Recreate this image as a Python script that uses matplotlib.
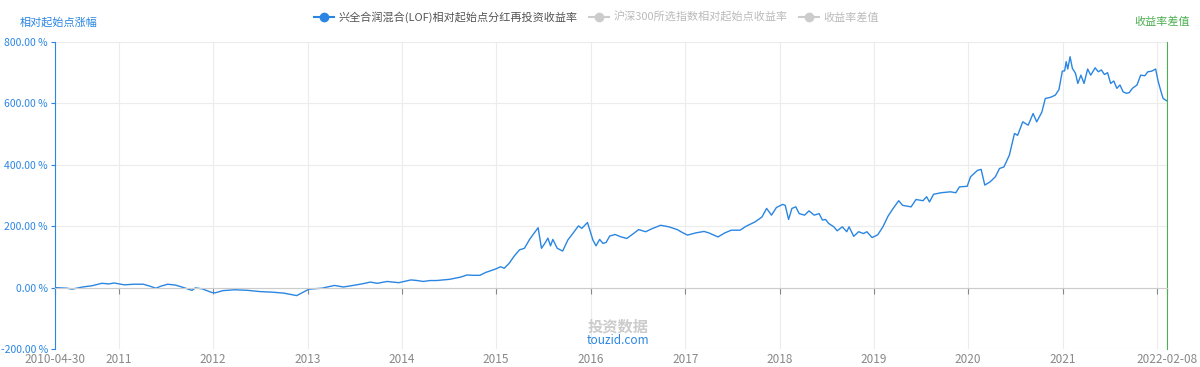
import matplotlib
matplotlib.use("Agg")
import matplotlib.pyplot as plt
from matplotlib.lines import Line2D
import pandas as pd

plt.rcParams["font.family"] = ["Noto Sans CJK SC", "DejaVu Sans"]

BLUE, GREEN, GRID = "#2a86e2", "#4caf50", "#ececec"

# ---- data (fund return relative to start, %) ----
dates = [
    "2010-04-30", "2010-06-15", "2010-07-05", "2010-08-15", "2010-09-20", "2010-10-28", "2010-11-25", "2010-12-15",
    "2011-01-23", "2011-03-01", "2011-04-07", "2011-05-01", "2011-05-25", "2011-06-15", "2011-07-10", "2011-08-10",
    "2011-09-10", "2011-10-12", "2011-10-25", "2011-11-20", "2011-12-28",
    "2012-01-10", "2012-02-08", "2012-03-25", "2012-05-15", "2012-07-01", "2012-08-20", "2012-10-01", "2012-11-20",
    "2012-12-15",
    "2013-01-07", "2013-02-25", "2013-04-15", "2013-05-20", "2013-07-10", "2013-08-05", "2013-09-01", "2013-09-28",
    "2013-11-05", "2013-12-20",
    "2014-02-05", "2014-03-01", "2014-03-25", "2014-04-20", "2014-05-15", "2014-07-05", "2014-08-15", "2014-09-10",
    "2014-10-05", "2014-10-30", "2014-11-20", "2014-12-10", "2014-12-31",
    "2015-01-18", "2015-02-01", "2015-02-20", "2015-03-10", "2015-04-01", "2015-04-20", "2015-05-10", "2015-06-12",
    "2015-06-25", "2015-07-08", "2015-07-20", "2015-07-30", "2015-08-08", "2015-08-25", "2015-09-15", "2015-10-05",
    "2015-10-25", "2015-11-15", "2015-11-28", "2015-12-20", "2015-12-31",
    "2016-01-10", "2016-01-22", "2016-02-05", "2016-02-18", "2016-03-01", "2016-03-15", "2016-04-05", "2016-04-25",
    "2016-05-20", "2016-06-15", "2016-07-05", "2016-08-01", "2016-08-26", "2016-09-28", "2016-10-30", "2016-12-01",
    "2016-12-22",
    "2017-01-10", "2017-02-10", "2017-03-15", "2017-04-03", "2017-05-08", "2017-06-03", "2017-06-28", "2017-08-01",
    "2017-08-25", "2017-09-28", "2017-10-25", "2017-11-12", "2017-12-01", "2017-12-20",
    "2018-01-13", "2018-01-23", "2018-02-05", "2018-02-18", "2018-03-05", "2018-03-18", "2018-04-08", "2018-04-25",
    "2018-05-15", "2018-06-03", "2018-06-16", "2018-06-28", "2018-07-10", "2018-07-30", "2018-08-12", "2018-09-01",
    "2018-09-18", "2018-09-27", "2018-10-15", "2018-11-03", "2018-11-22", "2018-12-05", "2018-12-25",
    "2019-01-16", "2019-02-05", "2019-02-25", "2019-03-15", "2019-04-07", "2019-04-22", "2019-05-25", "2019-06-13",
    "2019-07-10", "2019-07-24", "2019-08-04", "2019-08-20", "2019-09-18", "2019-10-24", "2019-11-14", "2019-11-28",
    "2019-12-28",
    "2020-01-10", "2020-02-06", "2020-02-20", "2020-03-05", "2020-03-25", "2020-04-15", "2020-05-01", "2020-05-18",
    "2020-06-08", "2020-06-28", "2020-07-10", "2020-07-30", "2020-08-20", "2020-09-08", "2020-09-22", "2020-10-12",
    "2020-10-25", "2020-11-15", "2020-12-03", "2020-12-17", "2020-12-30",
    "2021-01-08", "2021-01-14", "2021-01-20", "2021-01-29", "2021-02-07", "2021-02-19", "2021-02-28", "2021-03-12",
    "2021-03-24", "2021-04-07", "2021-04-19", "2021-05-06", "2021-05-18", "2021-05-30", "2021-06-11", "2021-06-23",
    "2021-07-05", "2021-07-17", "2021-07-29", "2021-08-10", "2021-08-22", "2021-09-03", "2021-09-15", "2021-09-27",
    "2021-10-15", "2021-10-29", "2021-11-14", "2021-11-26", "2021-12-11", "2021-12-26",
    "2022-01-05", "2022-01-16", "2022-01-24", "2022-02-02", "2022-02-08",
]
fund_ret = [
    0, -2, -5, 2, 6, 14, 12, 15,
    9, 11, 11, 5, -2, 5, 11, 8,
    0, -9, -1, -4, -16,
    -17, -10, -7, -9, -13, -15, -18, -26,
    -15,
    -5, -2, 7, 2, 9, 13, 18, 14,
    20, 16,
    25, 23, 20, 23, 23, 27, 34, 41,
    40, 40, 49, 55, 61,
    68, 63, 79, 101, 123, 128, 157, 195,
    128, 144, 161, 136, 157, 128, 119, 155,
    177, 201, 193, 212, 182,
    155, 136, 157, 144, 147, 168, 173, 166,
    160, 176, 189, 182, 192, 203, 198, 189,
    179,
    171, 178, 183, 178, 165, 178, 187, 187,
    200, 214, 230, 258, 236, 261,
    271, 268, 222, 258, 263, 241, 236, 250,
    236, 241, 220, 222, 209, 198, 185, 198,
    182, 198, 167, 182, 176, 182, 163,
    172, 198, 233, 256, 283, 268, 263, 287,
    283, 296, 279, 304, 309, 312, 309, 328,
    330,
    361, 382, 385, 334, 344, 361, 388, 393,
    431, 502, 496, 540, 529, 567, 540, 572,
    616, 620, 627, 645, 705,
    706, 736, 712, 752, 714, 698, 665, 692,
    665, 712, 692, 716, 703, 709, 694, 700,
    665, 673, 649, 660, 638, 633, 635, 649,
    660, 692, 690, 703, 705, 712,
    671, 638, 616, 611, 608,
]
yticks = [-200, 0, 200, 400, 600, 800]
years = list(range(2011, 2023))
start, end = "2010-04-30", "2022-02-08"

legend_labels = ["兴全合润混合(LOF)相对起始点分红再投资收益率",
                 "沪深300所选指数相对起始点收益率", "收益率差值"]

x = pd.to_datetime(dates)
xt = [pd.Timestamp(start)] + [pd.Timestamp(f"{y}-01-01") for y in years] + [pd.Timestamp(end)]
xt_lab = [start] + [str(y) for y in years[:-1]] + [""] + [end]

fig = plt.figure(figsize=(12, 3.67), dpi=100)
ax = fig.add_axes([55/1200, 1 - 349/367, 1112/1200, 307/367])
ax.plot(x, fund_ret, color=BLUE, lw=1.0)

ax.set_xlim(pd.Timestamp(start), pd.Timestamp(end))
ax.set_ylim(-200, 800)
ax.set_yticks(yticks)
ax.set_yticklabels([f"{v:.2f} %" for v in yticks])
ax.tick_params(axis="y", colors=BLUE, labelsize=7.5, length=3, width=0.8, pad=2)
ax.grid(True, color=GRID, lw=0.8)
ax.set_axisbelow(True)

# x axis line sits at 0, labels stay at the bottom
ax.set_xticks(xt)
ax.spines["bottom"].set_position(("data", 0))
ax.spines["bottom"].set_color("#cccccc")
ax.tick_params(axis="x", length=4, color="#888888", labelbottom=False)
sec = ax.secondary_xaxis("bottom")
sec.set_xticks(xt)
sec.set_xticklabels(xt_lab)
sec.tick_params(length=0, colors="#888888", labelsize=8.5, pad=3)
sec.spines["bottom"].set_visible(False)

ax.spines["left"].set_color(BLUE)
ax.spines["right"].set_color(GREEN)
ax.spines["top"].set_visible(False)

fig.text(20/1200, 1 - 22/367, "相对起始点涨幅", color=BLUE, fontsize=8, va="center")
fig.text(1190/1200, 1 - 22/367, "收益率差值", color=GREEN, fontsize=8, va="center", ha="right")

handles = [Line2D([], [], color=BLUE, marker="o", ms=6, lw=1.5),
           Line2D([], [], color="#cccccc", marker="o", ms=6, lw=1.5),
           Line2D([], [], color="#cccccc", marker="o", ms=6, lw=1.5)]
leg = fig.legend(handles, legend_labels, loc="center", bbox_to_anchor=(0.497, 1 - 17/367),
                 ncol=3, frameon=False, fontsize=8, handlelength=1.8, handletextpad=0.4,
                 columnspacing=1.0)
for t, c in zip(leg.get_texts(), ["#555555", "#bbbbbb", "#bbbbbb"]):
    t.set_color(c)

# watermark
fig.text(618/1200, 1 - 327/367, "投资数据", color="#cccccc", fontsize=11, weight="bold",
         ha="center", va="center")
fig.text(618/1200, 1 - 340/367, "touzid.com", color=BLUE, fontsize=8.5, ha="center", va="center")

fig.savefig("out.png", dpi=100)
